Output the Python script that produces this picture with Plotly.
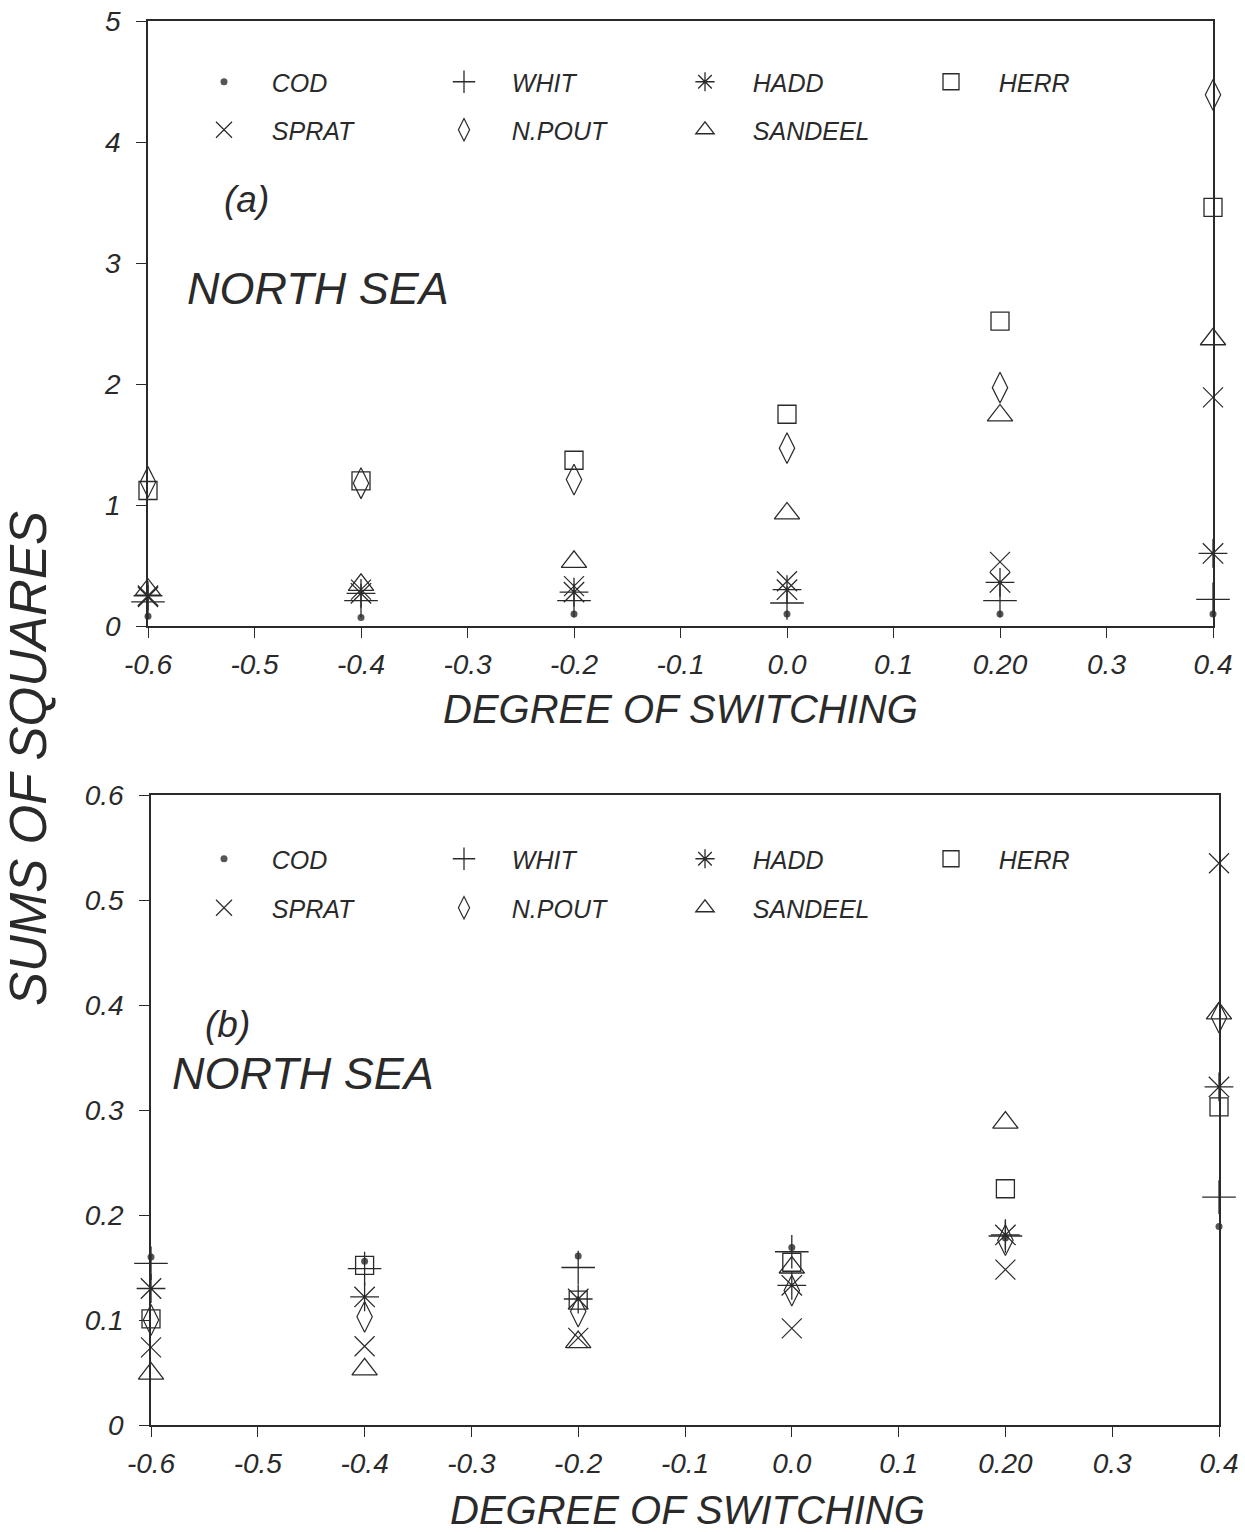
import plotly.graph_objects as go

W, H = 1245, 1532

x_vals = [-0.6, -0.4, -0.2, 0.0, 0.2, 0.4]
species = ["COD", "WHIT", "HADD", "HERR", "SPRAT", "N.POUT", "SANDEEL"]

# panel (a)
a_cod = [0.08, 0.07, 0.10, 0.10, 0.10, 0.10]
a_whit = [0.20, 0.21, 0.21, 0.19, 0.21, 0.22]
a_hadd = [0.25, 0.27, 0.28, 0.30, 0.36, 0.60]
a_herr = [1.12, 1.20, 1.37, 1.75, 2.52, 3.46]
a_sprat = [0.24, 0.30, 0.33, 0.37, 0.53, 1.89]
a_npout = [1.19, 1.18, 1.21, 1.47, 1.97, 4.39]
a_sandeel = [0.30, 0.34, 0.53, 0.93, 1.74, 2.37]

# panel (b)
b_cod = [0.160, 0.156, 0.161, 0.169, 0.178, 0.189]
b_whit = [0.154, 0.149, 0.150, 0.165, 0.180, 0.217]
b_hadd = [0.130, 0.122, 0.120, 0.133, 0.181, 0.322]
b_herr = [0.101, 0.152, 0.119, 0.155, 0.225, 0.303]
b_sprat = [0.074, 0.075, 0.083, 0.092, 0.148, 0.535]
b_npout = [0.100, 0.103, 0.108, 0.128, 0.176, 0.388]
b_sandeel = [0.049, 0.053, 0.079, 0.150, 0.288, 0.392]

x_tickvals = [-0.6, -0.5, -0.4, -0.3, -0.2, -0.1, 0.0, 0.1, 0.2, 0.3, 0.4]
x_ticktext = ["-0.6", "-0.5", "-0.4", "-0.3", "-0.2", "-0.1", "0.0", "0.1", "0.20", "0.3", "0.4"]
ya_tickvals = [0, 1, 2, 3, 4, 5]
ya_ticktext = ["0", "1", "2", "3", "4", "5"]
yb_tickvals = [0, 0.1, 0.2, 0.3, 0.4, 0.5, 0.6]
yb_ticktext = ["0", "0.1", "0.2", "0.3", "0.4", "0.5", "0.6"]

INK = "#2a2a2a"
FONT = "Liberation Sans"

styles = {
    "COD": dict(symbol="circle", size=7, color="#555555", line=dict(width=0, color=INK)),
    "WHIT": dict(symbol="cross-thin", size=24, color=INK, line=dict(width=1.3, color=INK)),
    "HADD": dict(symbol="asterisk", size=24, color=INK, line=dict(width=1.3, color=INK)),
    "HERR": dict(symbol="square-open", size=18, color=INK, line=dict(width=1.3, color=INK)),
    "SPRAT": dict(symbol="x-thin", size=20, color=INK, line=dict(width=1.2, color=INK)),
    "N.POUT": dict(symbol="diamond-tall-open", size=22, color=INK, line=dict(width=1.2, color=INK)),
    "SANDEEL": dict(symbol="triangle-up-open", size=22, color=INK, line=dict(width=1.3, color=INK)),
}

panel_a = [a_cod, a_whit, a_hadd, a_herr, a_sprat, a_npout, a_sandeel]
panel_b = [b_cod, b_whit, b_hadd, b_herr, b_sprat, b_npout, b_sandeel]

# legend key layout (pixel positions of each key in the reference)
leg_cols = [224, 464, 705, 951, 224, 464, 705]
leg_rows_a = [82, 82, 82, 82, 130, 130, 130]
leg_rows_b = [859, 859, 859, 859, 908, 908, 908]

NB = "\u00a0" * 4


def px(v):
    return v / W


def py(v):
    return 1 - v / H


leg_font = dict(family=FONT, size=25, color=INK, style="italic")
legends = {}
fig = go.Figure()
for panel, rows, xa, ya, off in [(panel_a, leg_rows_a, "x", "y", 0),
                                 (panel_b, leg_rows_b, "x2", "y2", 7)]:
    for i, (name, ys) in enumerate(zip(species, panel)):
        k = off + i + 1
        lid = "legend" if k == 1 else f"legend{k}"
        fig.add_trace(go.Scatter(
            x=x_vals, y=ys, mode="markers", name=NB + name,
            marker=styles[name], xaxis=xa, yaxis=ya, cliponaxis=False,
            legend=lid, showlegend=True,
        ))
        legends[lid] = dict(
            x=px(leg_cols[i] - 20), y=py(rows[i]), xanchor="left", yanchor="middle",
            bgcolor="rgba(0,0,0,0)", borderwidth=0, font=leg_font,
            itemclick=False, itemdoubleclick=False, tracegroupgap=0, visible=True,
        )

tick_font = dict(family=FONT, size=28, color=INK, style="italic")
axis_common = dict(
    showline=True, linecolor=INK, linewidth=1.5, mirror=True,
    ticks="outside", ticklen=10, tickwidth=1.2, tickcolor=INK,
    showgrid=False, zeroline=False, tickfont=tick_font, automargin=False,
)

fig.update_layout(
    width=W, height=H, showlegend=True,
    margin=dict(l=0, r=0, t=0, b=0, autoexpand=False),
    paper_bgcolor="white", plot_bgcolor="white",
    font=dict(family=FONT, color=INK),
    xaxis=dict(domain=[px(148), px(1213)], range=[-0.6, 0.4], anchor="y",
               tickvals=x_tickvals, ticktext=x_ticktext, ticklabelstandoff=3, **axis_common),
    yaxis=dict(domain=[py(626), py(21)], range=[0, 5], anchor="x",
               tickvals=ya_tickvals, ticktext=ya_ticktext, ticklabelstandoff=10, **axis_common),
    xaxis2=dict(domain=[px(151), px(1219)], range=[-0.6, 0.4], anchor="y2",
                tickvals=x_tickvals, ticktext=x_ticktext, ticklabelstandoff=3, **axis_common),
    yaxis2=dict(domain=[py(1425), py(795)], range=[0, 0.6], anchor="x2",
                tickvals=yb_tickvals, ticktext=yb_ticktext, ticklabelstandoff=10, **axis_common),
    **legends,
)

ann = []


def text(x, y, s, size, xanchor="center", angle=0):
    ann.append(dict(x=px(x), y=py(y), xref="paper", yref="paper", text=s,
                    showarrow=False, xanchor=xanchor, yanchor="middle", textangle=angle,
                    font=dict(family=FONT, size=size, color=INK, style="italic")))


text(222, 200, "(a)", 37, xanchor="left")
text(185, 289, "NORTH SEA", 45, xanchor="left")
text(680, 709, "DEGREE OF SWITCHING", 40)
text(203, 1024, "(b)", 37, xanchor="left")
text(170, 1073, "NORTH SEA", 45, xanchor="left")
text(687, 1510, "DEGREE OF SWITCHING", 40)
text(28, 759, "SUMS OF SQUARES", 51, angle=-90)
fig.update_layout(annotations=ann)

fig.write_html(
    "out.html",
    config={"displayModeBar": False},
    post_script="document.body.style.margin='0';document.body.style.overflow='hidden';",
)
